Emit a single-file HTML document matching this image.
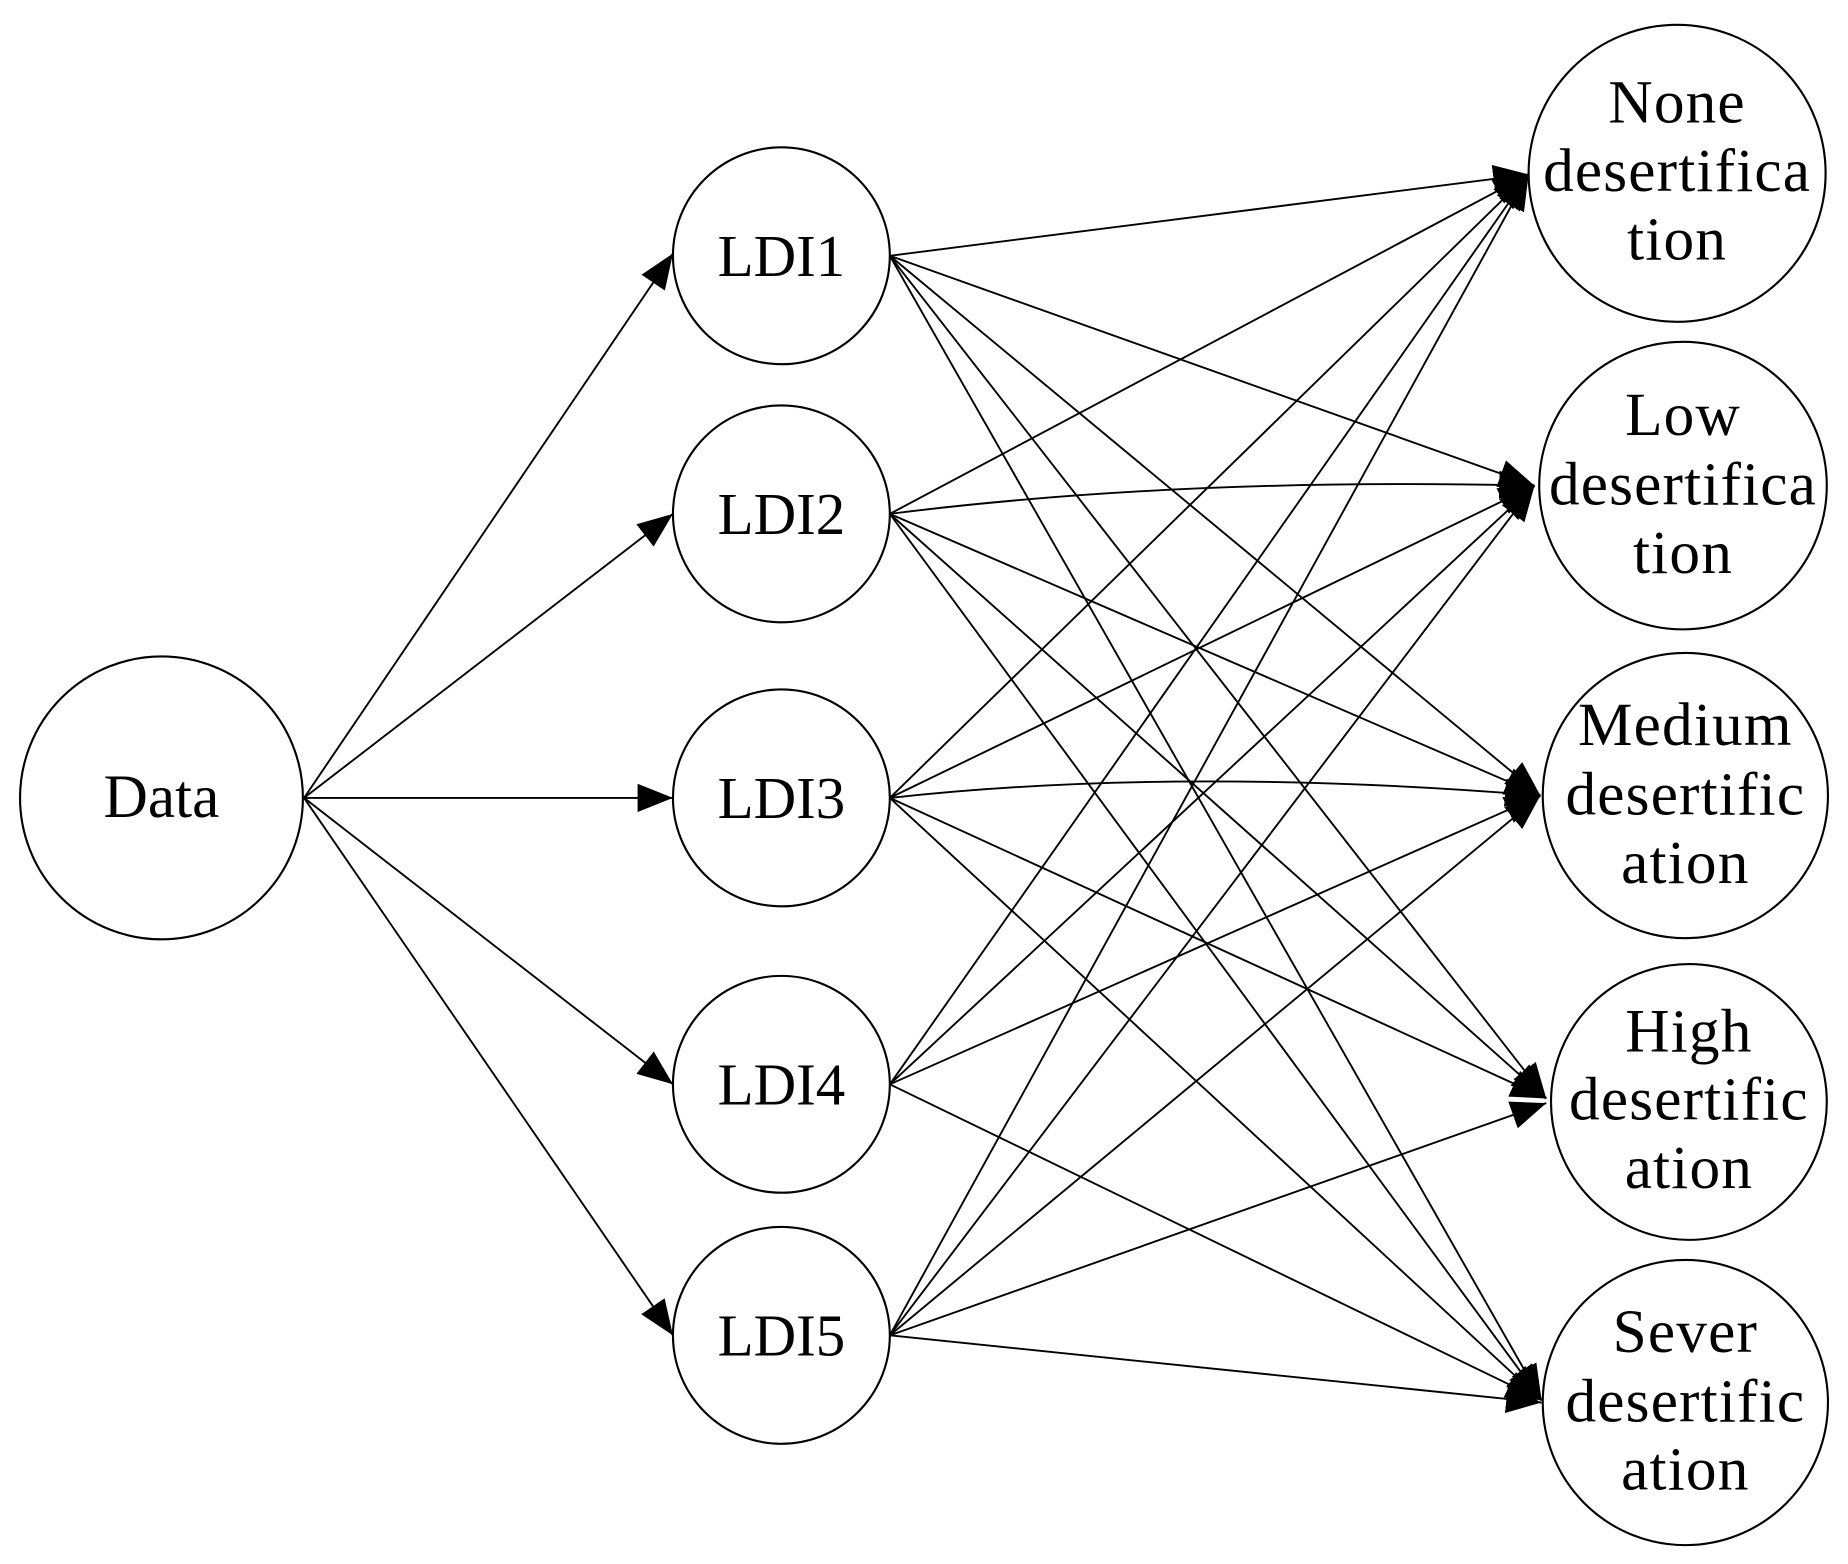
<!DOCTYPE html>
<html><head><style>html,body{margin:0;padding:0;background:#fff}svg{display:block}</style></head><body>
<svg width="1848" height="1564" viewBox="0 0 1568 1327" xmlns="http://www.w3.org/2000/svg" font-family="'Liberation Serif', serif">
<defs>
<marker id="b" viewBox="0 0 30 24" refX="30" refY="12" markerWidth="30" markerHeight="24" orient="auto" markerUnits="userSpaceOnUse"><path d="M0,0 L30,12 L0,24 z" fill="#000"/></marker></defs>
<g stroke="#000" stroke-width="1.6" fill="none" marker-end="url(#b)">
<line x1="258" y1="677" x2="571" y2="215"/>
<line x1="258" y1="677" x2="571" y2="436"/>
<line x1="258" y1="677" x2="571" y2="677"/>
<line x1="258" y1="677" x2="571" y2="920"/>
<line x1="258" y1="677" x2="571" y2="1133"/>
</g>
<g stroke="#000" stroke-width="1.6" fill="none" marker-end="url(#b)">
<line x1="755" y1="217" x2="1297" y2="148"/><line x1="755" y1="217" x2="1302" y2="412"/><line x1="755" y1="217" x2="1307" y2="675"/><line x1="755" y1="217" x2="1312" y2="932"/><line x1="755" y1="217" x2="1308" y2="1188"/>
<line x1="755" y1="436" x2="1297" y2="148"/><path d="M755,436 Q1000,405 1302,412"/><line x1="755" y1="436" x2="1307" y2="675"/><line x1="755" y1="436" x2="1312" y2="932"/><line x1="755" y1="436" x2="1308" y2="1188"/>
<line x1="755" y1="677" x2="1297" y2="148"/><line x1="755" y1="677" x2="1302" y2="412"/><path d="M755,677 Q1000,650 1307,675"/><line x1="755" y1="677" x2="1312" y2="932"/><line x1="755" y1="677" x2="1308" y2="1188"/>
<line x1="755" y1="920" x2="1297" y2="148"/><line x1="755" y1="920" x2="1302" y2="412"/><line x1="755" y1="920" x2="1307" y2="675"/><line x1="755" y1="920" x2="1308" y2="1188"/>
<line x1="755" y1="1133" x2="1297" y2="148"/><line x1="755" y1="1133" x2="1302" y2="412"/><line x1="755" y1="1133" x2="1307" y2="675"/><line x1="755" y1="1133" x2="1312" y2="936"/><line x1="755" y1="1133" x2="1308" y2="1190"/>
</g>
<g stroke="#000" stroke-width="1.8" fill="#fff">
<circle cx="137" cy="677" r="120"/>
<circle cx="663" cy="217" r="92"/><circle cx="663" cy="436" r="92"/><circle cx="663" cy="677" r="92"/><circle cx="663" cy="920" r="92"/><circle cx="663" cy="1133" r="92"/>
<circle cx="1423" cy="147" r="126"/><circle cx="1428" cy="412" r="122"/><circle cx="1430" cy="675" r="121"/><circle cx="1433" cy="935" r="117"/><circle cx="1430" cy="1190" r="121"/>
</g>
<g font-size="50" text-anchor="middle" fill="#000">
<text x="137" y="693" font-size="52">Data</text>
<text x="663" y="234">LDI1</text><text x="663" y="453">LDI2</text><text x="663" y="694">LDI3</text><text x="663" y="937">LDI4</text><text x="663" y="1150">LDI5</text>
</g>
<g font-size="52" text-anchor="middle" fill="#000" letter-spacing="1">
<text x="1423" y="104">None</text><text x="1423" y="162">desertifica</text><text x="1423" y="220">tion</text>
<text x="1428" y="369">Low</text><text x="1428" y="428">desertifica</text><text x="1428" y="486">tion</text>
<text x="1430" y="632">Medium</text><text x="1430" y="691">desertific</text><text x="1430" y="749">ation</text>
<text x="1433" y="892">High</text><text x="1433" y="950">desertific</text><text x="1433" y="1008">ation</text>
<text x="1430" y="1147">Sever</text><text x="1430" y="1206">desertific</text><text x="1430" y="1264">ation</text>
</g>
</svg>
</body></html>
